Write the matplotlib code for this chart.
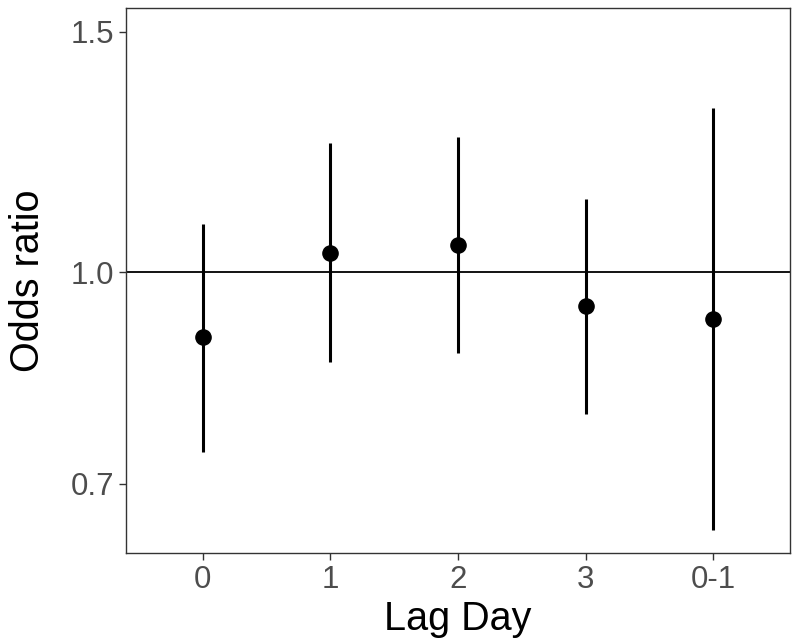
import matplotlib
matplotlib.use("Agg")
import matplotlib.pyplot as plt
from matplotlib.ticker import FixedLocator, NullLocator

plt.rcParams["font.family"] = ["Liberation Sans", "DejaVu Sans"]

lags = ["0", "1", "2", "3", "0-1"]
odds = [0.896, 1.033, 1.047, 0.944, 0.924]
lower = [0.739, 0.859, 0.872, 0.788, 0.648]
upper = [1.084, 1.243, 1.256, 1.131, 1.319]
yticks = [0.7, 1.0, 1.5]

fig = plt.figure(figsize=(8, 6.42), dpi=100)
ax = fig.add_axes([126 / 800, 1 - 553 / 642, (790 - 126) / 800, (553 - 8) / 642])

x = list(range(len(lags)))
ax.axhline(1.0, color="black", lw=1.3, zorder=1)
ax.vlines(x, lower, upper, color="black", lw=2.2, zorder=2)
ax.scatter(x, odds, s=120, color="black", zorder=3)

# log-scaled odds ratio axis
ax.set_yscale("log")
ax.set_ylim(0.623, 1.561)
ax.yaxis.set_major_locator(FixedLocator(yticks))
ax.yaxis.set_minor_locator(NullLocator())
ax.set_yticklabels([f"{v:.1f}" for v in yticks])
ax.set_xlim(-0.6, len(lags) - 0.4)
ax.set_xticks(x)
ax.set_xticklabels(lags)

for s in ax.spines.values():
    s.set_color("#333333")
    s.set_linewidth(1.0)
ax.tick_params(axis="both", colors="#333333", labelcolor="#4D4D4D",
               labelsize=22.5, length=5, width=1)
ax.set_xlabel("Lag Day", fontsize=28.5, labelpad=4)
ax.set_ylabel("Odds ratio", fontsize=28.5, labelpad=17)

fig.savefig("out.png", dpi=100)
